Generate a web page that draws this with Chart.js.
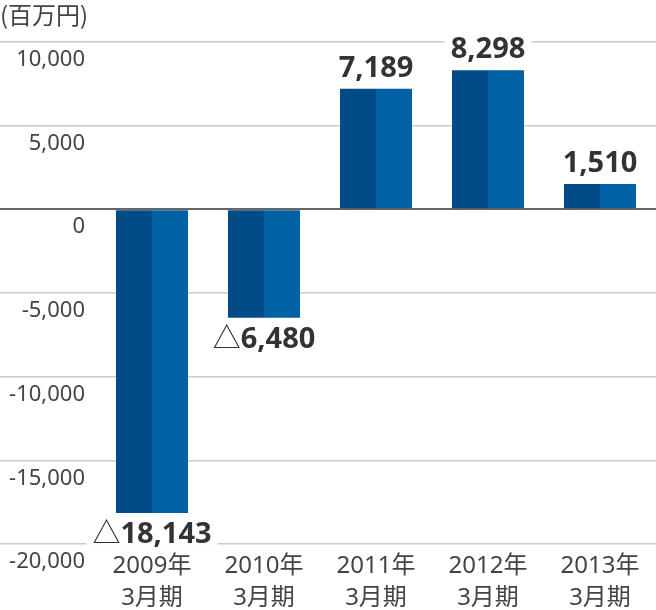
<!DOCTYPE html>
<html>
<head>
<meta charset="utf-8">
<script src="https://cdn.jsdelivr.net/npm/chart.js@4"></script>
<style>
  html, body { margin: 0; padding: 0; background: #fff; }
  #contenedor { width: 656px; height: 610px; }
</style>
</head>
<body>
<div id="contenedor"><canvas id="grafico"></canvas></div>
<script>
// Datos del gráfico (百万円)
const periodos = [
  ["2009年", "3月期"],
  ["2010年", "3月期"],
  ["2011年", "3月期"],
  ["2012年", "3月期"],
  ["2013年", "3月期"]
];
const resultado = [-18143, -6480, 7189, 8298, 1510];
const ejeMin = -20000;
const ejeMax = 10000;
const ejePaso = 5000;
const unidad = "(百万円)";

const colorOscuro = "#004b88";
const colorClaro = "#0062a4";
const fuente = "'Noto Sans', 'Noto Sans CJK JP', sans-serif";

// Etiquetas de valor encima / debajo de cada barra
const etiquetasPlugin = {
  id: "etiquetas",
  afterDatasetsDraw(chart) {
    const ctx = chart.ctx;
    const meta = chart.getDatasetMeta(0);
    const x = chart.scales.x;
    resultado.forEach((v, i) => {
      const bar = meta.data[i];
      const cx = x.getPixelForValue(i);
      const num = Math.abs(v).toLocaleString("en-US");
      ctx.save();
      ctx.font = "bold 29px " + fuente;
      const wNum = ctx.measureText(num).width;
      let wTri = 0;
      if (v < 0) {
        ctx.font = "28px 'Noto Sans CJK JP'";
        wTri = ctx.measureText("△").width;
      }
      const total = wNum + wTri;
      const base = v < 0 ? bar.y + 30 : bar.y - 12;
      const izq = cx - total / 2;
      // fondo blanco que corta la línea de la cuadrícula
      ctx.fillStyle = "#fff";
      ctx.fillRect(izq - 6, base - 25, total + 12, 27);
      ctx.textBaseline = "alphabetic";
      ctx.textAlign = "left";
      ctx.fillStyle = "#333";
      if (v < 0) {
        ctx.font = "28px 'Noto Sans CJK JP'";
        ctx.fillText("△", izq, base);
      }
      ctx.font = "bold 29px " + fuente;
      ctx.fillText(num, izq + wTri, base);
      ctx.restore();
    });
  }
};

const ctx = document.getElementById("grafico").getContext("2d");
new Chart(ctx, {
  type: "bar",
  data: {
    labels: periodos,
    datasets: [
      { data: resultado, backgroundColor: colorOscuro },
      { data: resultado, backgroundColor: colorClaro }
    ]
  },
  options: {
    responsive: true,
    maintainAspectRatio: false,
    animation: false,
    layout: { padding: 0 },
    datasets: {
      bar: { barPercentage: 1, categoryPercentage: 72 / 112, borderWidth: 0 }
    },
    plugins: {
      legend: { display: false },
      tooltip: { enabled: false },
      title: {
        display: true,
        text: unidad,
        align: "start",
        color: "#444",
        font: { family: "'Noto Sans CJK JP'", size: 24, weight: "normal", lineHeight: 1.2 },
        padding: { top: 0, bottom: 13 }
      }
    },
    scales: {
      x: {
        grid: { display: false, drawTicks: false },
        border: { display: false },
        afterFit(scale) { scale.height = 66; },
        ticks: {
          color: "#444",
          padding: 6,
          maxRotation: 0,
          font: { family: fuente, size: 24, lineHeight: 1.34 }
        }
      },
      y: {
        min: ejeMin,
        max: ejeMax,
        border: { display: false },
        afterFit(scale) { scale.width = 96; },
        grid: {
          tickLength: 96,
          color: (c) => (c.tick && c.tick.value === 0 ? "#666" : "#cbcbcb"),
          lineWidth: (c) => (c.tick && c.tick.value === 0 ? 2 : 1.5)
        },
        ticks: {
          stepSize: ejePaso,
          padding: -85,
          labelOffset: 18,
          color: "#444",
          font: { family: fuente, size: 22 },
          callback: (v) => v.toLocaleString("en-US")
        }
      }
    }
  },
  plugins: [etiquetasPlugin]
});
</script>
</body>
</html>
